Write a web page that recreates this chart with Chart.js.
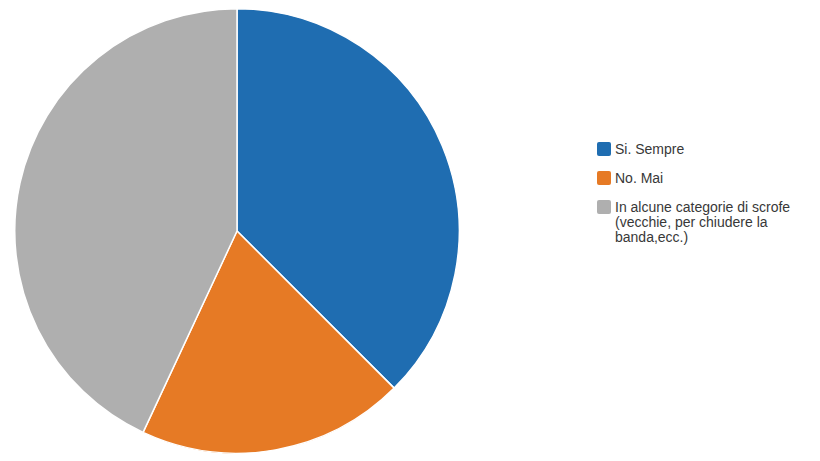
<!DOCTYPE html>
<html>
<head>
<meta charset="utf-8">
<script src="https://cdn.jsdelivr.net/npm/chart.js@4.4.0/dist/chart.umd.min.js"></script>
<style>
  html, body { margin: 0; padding: 0; background: #fff; }
  #wrap { position: relative; width: 820px; height: 461px; }
  #pieBox { position: absolute; left: 14px; top: 8px; width: 446px; height: 446px; }
  #legend { position: absolute; left: 597px; top: 142px; width: 210px;
            font-family: "Liberation Sans", Arial, sans-serif; font-size: 14px; color: #383838; }
  .item { position: relative; padding-left: 18px; line-height: 15px; margin-bottom: 14px; }
  .item .box { position: absolute; left: 0; top: 0; width: 14px; height: 14px; border-radius: 2px; }
</style>
</head>
<body>
<div id="wrap">
  <div id="pieBox"><canvas id="pie"></canvas></div>
  <div id="legend"></div>
</div>
<script>
// Dati del grafico
const labels = ['Si. Sempre', 'No. Mai', 'In alcune categorie di scrofe (vecchie, per chiudere la banda,ecc.)'];
const values = [27, 14, 31];
const colors = ['#1f6db1', '#e67a25', '#afafaf'];

function buildLegend(el) {
    labels.forEach((lab, i) => {
        const item = document.createElement('div');
        item.className = 'item';
        const box = document.createElement('span');
        box.className = 'box';
        box.style.background = colors[i];
        item.appendChild(box);
        item.appendChild(document.createTextNode(lab));
        el.appendChild(item);
    });
}

document.addEventListener('DOMContentLoaded', () => {
    const ctx = document.getElementById('pie').getContext('2d');
    new Chart(ctx, {
        type: 'pie',
        data: {
            labels: labels,
            datasets: [{
                data: values,
                backgroundColor: colors,
                borderColor: '#ffffff',
                borderWidth: 1.5
            }]
        },
        options: {
            responsive: true,
            maintainAspectRatio: false,
            animation: false,
            layout: { padding: 0 },
            plugins: {
                legend: { display: false },
                tooltip: { enabled: false }
            }
        }
    });
    buildLegend(document.getElementById('legend'));
});
</script>
</body>
</html>
